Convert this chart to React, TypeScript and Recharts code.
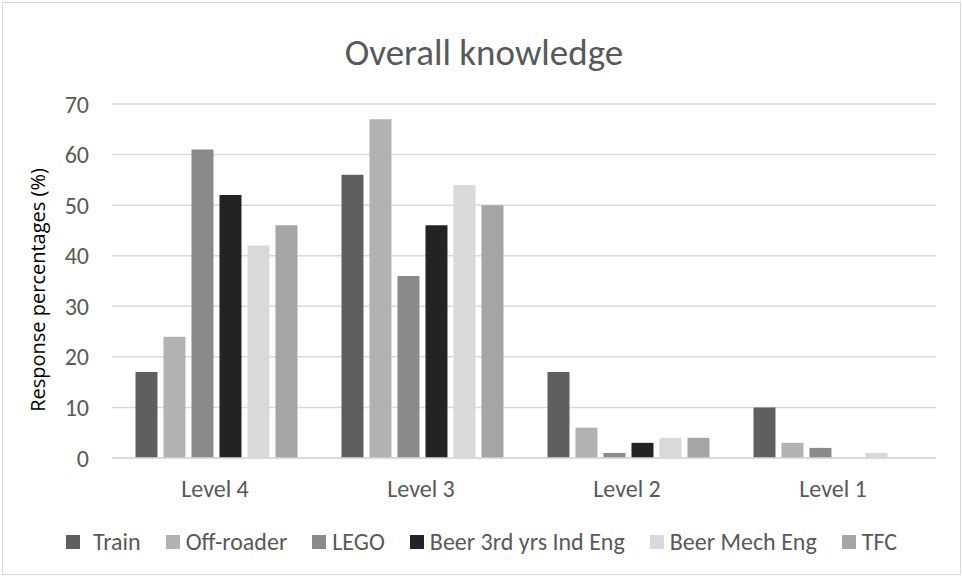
import { BarChart, Bar, XAxis, YAxis, CartesianGrid, Legend } from 'recharts';

const levels = ['Level 4', 'Level 3', 'Level 2', 'Level 1'];
const train = [17, 56, 17, 10];
const offRoader = [24, 67, 6, 3];
const lego = [61, 36, 1, 2];
const beer3rd = [52, 46, 3, 0];
const beerMech = [42, 54, 4, 1];
const tfc = [46, 50, 4, 0];
const yTicks = [0, 10, 20, 30, 40, 50, 60, 70];

const series = [
  { key: 'Train', color: '#5f5f5f' },
  { key: 'Off-roader', color: '#b2b2b2' },
  { key: 'LEGO', color: '#8a8a8a' },
  { key: 'Beer 3rd yrs Ind Eng', color: '#232323' },
  { key: 'Beer Mech Eng', color: '#d9d9d9' },
  { key: 'TFC', color: '#a5a5a5' },
];

const data = levels.map((level, i) => ({
  level,
  'Train': train[i],
  'Off-roader': offRoader[i],
  'LEGO': lego[i],
  'Beer 3rd yrs Ind Eng': beer3rd[i],
  'Beer Mech Eng': beerMech[i],
  'TFC': tfc[i],
}));

const font = "Carlito, Calibri, Lato, sans-serif";

// legend drawn through recharts' content hook so spacing matches Excel
function renderLegend(props: any) {
  const items = [...(props.payload || [])].sort(
    (a: any, b: any) =>
      series.findIndex((s) => s.key === a.value) - series.findIndex((s) => s.key === b.value)
  );
  return (
    <div style={{ display: 'flex', justifyContent: 'center', alignItems: 'center', fontFamily: font, fontSize: 24, color: '#595959', lineHeight: '28px' }}>
      {items.map((item: any, i: number) => (
        <div key={item.value} style={{ display: 'flex', alignItems: 'center', marginLeft: i === 0 ? 0 : 25 }}>
          <span style={{ display: 'inline-block', width: 14, height: 14, background: item.color, marginRight: i === 0 ? 13 : 6 }} />
          <span>{item.value}</span>
        </div>
      ))}
    </div>
  );
}

export default function App() {
  return (
    <div style={{ position: 'absolute', left: 0, top: 0, width: 963, height: 577, background: '#fff', fontFamily: font }}>
      <div style={{ position: 'absolute', left: 2, top: 2, width: 957, height: 571, border: '1px solid #d9d9d9' }} />
      <div style={{ position: 'absolute', top: 34, left: 0, width: 968, textAlign: 'center', fontSize: 37, lineHeight: 1, color: '#595959' }}>
        Overall knowledge
      </div>
      <div
        style={{
          position: 'absolute',
          left: 37,
          top: 290,
          transform: 'translate(-50%, -50%) rotate(-90deg)',
          whiteSpace: 'nowrap',
          fontFamily: "'Open Sans', sans-serif",
          fontSize: 20,
          color: '#000',
        }}
      >
        Response percentages (%)
      </div>
      <BarChart
        width={963}
        height={577}
        data={data}
        margin={{ top: 104, right: 27, left: 60, bottom: 79 }}
        barCategoryGap="11.4%"
        barGap={6}
        style={{ position: 'absolute', left: 0, top: 0 }}
      >
        <CartesianGrid vertical={false} stroke="#d9d9d9" strokeWidth={1.5} />
        <XAxis
          dataKey="level"
          tickLine={false}
          axisLine={{ stroke: '#d9d9d9', strokeWidth: 1.5 }}
          tick={{ fill: '#595959', fontSize: 24, fontFamily: font }}
          tickMargin={16}
          height={40}
        />
        <YAxis
          domain={[0, 70]}
          ticks={yTicks}
          tickLine={false}
          axisLine={false}
          width={52}
          tickMargin={17}
          tick={{ fill: '#595959', fontSize: 24, fontFamily: font }}
        />
        <Legend
          layout="horizontal"
          verticalAlign="middle"
          align="center"
          content={renderLegend}
          wrapperStyle={{ top: 528, left: 0, width: 963 }}
        />
        {series.map((s) => (
          <Bar key={s.key} dataKey={s.key} fill={s.color} isAnimationActive={false} />
        ))}
      </BarChart>
    </div>
  );
}
